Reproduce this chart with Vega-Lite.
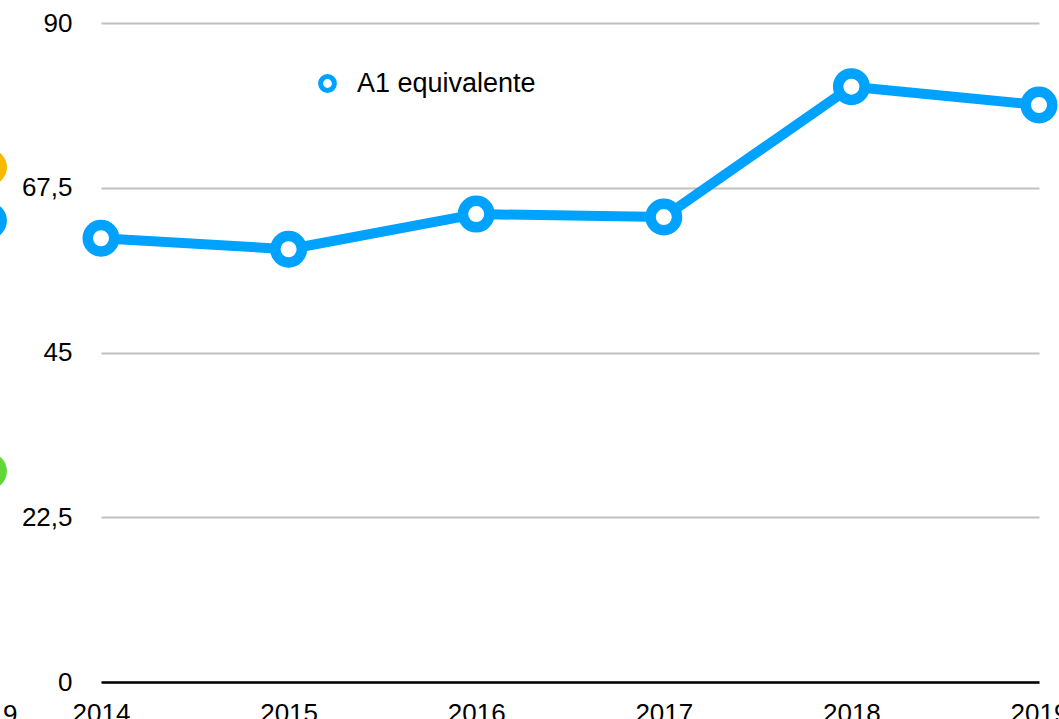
{
  "$schema": "https://vega.github.io/schema/vega-lite/v6.json",
  "width": 938,
  "height": 659,
  "autosize": {"type": "none"},
  "padding": {"left": 101, "top": 23, "right": 20, "bottom": 37},
  "background": "white",
  "config": {
    "view": {"stroke": null},
    "font": "Liberation Sans",
    "axis": {"labelFont": "Liberation Sans", "labelColor": "#000000", "labelFontSize": 26}
  },
  "datasets": {
    "main": [
      {"year": 2014, "value": 60.6, "series": "A1 equivalente"},
      {"year": 2015, "value": 59.1, "series": "A1 equivalente"},
      {"year": 2016, "value": 63.9, "series": "A1 equivalente"},
      {"year": 2017, "value": 63.5, "series": "A1 equivalente"},
      {"year": 2018, "value": 81.3, "series": "A1 equivalente"},
      {"year": 2019, "value": 78.8, "series": "A1 equivalente"}
    ],
    "prev": [
      {"year": 2013.4, "value": 70.3, "series": "orange"},
      {"year": 2013.4, "value": 63.0, "series": "blue"},
      {"year": 2013.4, "value": 28.8, "series": "green"}
    ],
    "prevlabel": [
      {"year": 2013.4, "label": "2019"}
    ]
  },
  "layer": [
    {
      "data": {"name": "main"},
      "mark": {"type": "line", "strokeWidth": 10, "strokeJoin": "round"},
      "encoding": {
        "x": {
          "field": "year", "type": "quantitative",
          "scale": {"domain": [2014, 2019], "nice": false, "zero": false},
          "axis": {
            "values": [2014, 2015, 2016, 2017, 2018, 2019],
            "format": "d", "title": null, "grid": false, "ticks": false,
            "domain": true, "domainColor": "#000000", "domainWidth": 2.5,
            "labelPadding": 18, "labelFlush": false, "labelOverlap": false
          }
        },
        "y": {
          "field": "value", "type": "quantitative",
          "scale": {"domain": [0, 90], "nice": false},
          "axis": {
            "values": [0, 22.5, 45, 67.5, 90],
            "format": ".1~f",
            "labelExpr": "replace(datum.label, '.', ',')",
            "title": null, "grid": true, "gridColor": "#c0c0c0", "gridWidth": 2,
            "ticks": false, "domain": false, "labelPadding": 29
          }
        },
        "color": {
          "field": "series", "type": "nominal",
          "scale": {"domain": ["A1 equivalente"], "range": ["#00A2FF"]},
          "legend": {
            "title": null, "orient": "none", "legendX": 213, "legendY": 47,
            "padding": 0, "symbolType": "circle", "symbolFillColor": "#ffffff",
            "symbolStrokeColor": "#00A2FF", "symbolStrokeWidth": 5, "symbolSize": 190,
            "labelFontSize": 27, "labelColor": "#000000", "labelFont": "Liberation Sans",
            "labelOffset": 16, "labelLimit": 400
          }
        }
      }
    },
    {
      "data": {"name": "main"},
      "mark": {"type": "point", "filled": false, "fill": "#ffffff", "fillOpacity": 1, "stroke": "#00A2FF", "strokeWidth": 10.5, "size": 702, "opacity": 1},
      "encoding": {
        "x": {"field": "year", "type": "quantitative"},
        "y": {"field": "value", "type": "quantitative"}
      }
    },
    {
      "data": {"name": "prev"},
      "mark": {"type": "circle", "size": 1369, "opacity": 1},
      "encoding": {
        "x": {"field": "year", "type": "quantitative"},
        "y": {"field": "value", "type": "quantitative"},
        "color": {
          "field": "series", "type": "nominal",
          "scale": {"domain": ["orange", "blue", "green"], "range": ["#F8BA00", "#00A2FF", "#61D836"]},
          "legend": null
        }
      }
    },
    {
      "data": {"name": "prevlabel"},
      "mark": {"type": "text", "fontSize": 26, "font": "Liberation Sans", "color": "#000000", "baseline": "top", "align": "center", "dy": 20},
      "encoding": {
        "x": {"field": "year", "type": "quantitative"},
        "y": {"datum": 0},
        "text": {"field": "label"}
      }
    }
  ],
  "resolve": {"scale": {"color": "independent"}}
}
